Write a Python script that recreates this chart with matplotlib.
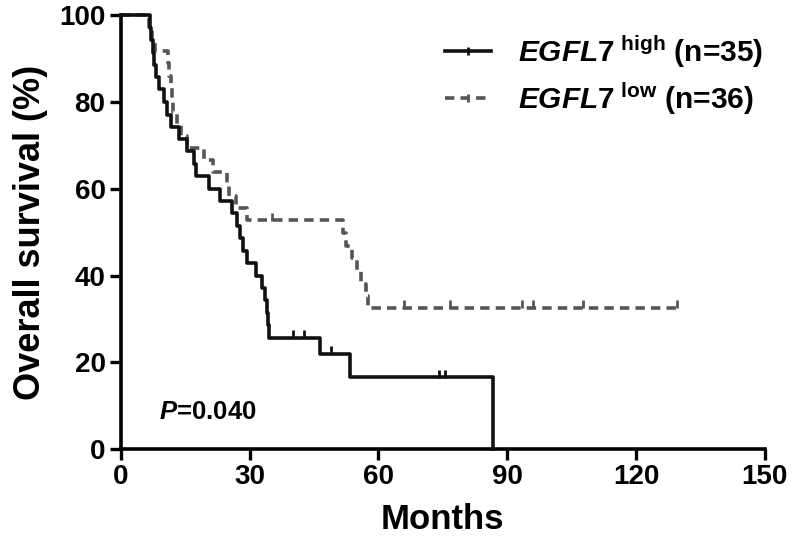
import numpy as np
import matplotlib
matplotlib.use("Agg")
import matplotlib.pyplot as plt
from matplotlib.lines import Line2D

# * Kaplan-Meier data (months, survival %)

# EGFL7 high (n=35): event times and survival after each event
hi_t = [6.8, 7.1, 7.4, 7.7, 8.2, 9.0, 10.0, 10.8, 11.6, 13.5, 15.5, 17.0, 17.5,
        20.5, 23.0, 26.0, 27.0, 27.8, 28.4, 29.4, 31.5, 33.0, 33.5, 34.0, 34.3,
        34.6, 46.4, 53.4, 86.7]
hi_s = [97.1, 94.3, 91.4, 88.6, 85.7, 82.9, 80.0, 77.1, 74.3, 71.4, 68.6, 65.7,
        62.9, 60.0, 57.1, 54.3, 51.4, 48.6, 45.7, 42.9, 40.0, 37.1, 34.3, 31.4,
        28.6, 25.7, 22.0, 16.5, 0.0]
hi_cens = [40.0, 42.7, 49.0, 74.0, 75.5]

# EGFL7 low (n=36)
lo_t = [6.5, 7.2, 8.0, 11.0, 11.3, 11.6, 11.9, 12.2, 13.0, 14.0, 15.5, 19.3,
        21.5, 24.8, 25.2, 26.8, 29.5, 51.7, 52.5, 53.8, 55.0, 56.0, 57.0, 57.6]
lo_s = [97.2, 94.4, 91.7, 88.9, 86.1, 83.3, 80.6, 77.8, 75.0, 72.2, 69.4, 66.7,
        63.9, 61.1, 58.3, 55.6, 52.8, 49.9, 46.9, 44.0, 41.1, 38.1, 35.2, 32.6]
lo_cens = [35.3, 66.0, 76.7, 93.5, 96.0, 107.7, 129.5]

x_ticks = [0, 30, 60, 90, 120, 150]
y_ticks = [0, 20, 40, 60, 80, 100]


def surv_at(times, levels, t):
    # survival of the step curve at time t
    s = 100.0
    for ti, si in zip(times, levels):
        if ti <= t:
            s = si
    return s


plt.rcParams['font.family'] = ['Liberation Sans', 'DejaVu Sans']
plt.rcParams['font.weight'] = 'bold'
plt.rcParams['mathtext.fontset'] = 'custom'
plt.rcParams['mathtext.it'] = 'Liberation Sans:italic:bold'
plt.rcParams['mathtext.rm'] = 'Liberation Sans:bold'
plt.rcParams['mathtext.bf'] = 'Liberation Sans:bold'

fig = plt.figure(figsize=(8, 5.43), dpi=100)
ax = fig.add_axes([0.151, 0.173, 0.805, 0.799])

hi_col = '#111111'
lo_col = '#555555'
dash = (0, (2.6, 1.7))

# high group, solid
ax.step([0] + hi_t, [100] + hi_s, where='post', color=hi_col, lw=2.6,
        clip_on=False, zorder=3)
ax.plot(hi_cens, [surv_at(hi_t, hi_s, t) + 0.8 for t in hi_cens], ls='none',
        marker='|', ms=6, mew=2, color=hi_col, clip_on=False, zorder=3)

# low group, dashed
ax.step([0] + lo_t + [lo_cens[-1]], [100] + lo_s + [lo_s[-1]], where='post',
        color=lo_col, lw=2.6, ls=dash, clip_on=False, zorder=2)
ax.plot(lo_cens, [surv_at(lo_t, lo_s, t) + 0.8 for t in lo_cens], ls='none',
        marker='|', ms=6, mew=2, color=lo_col, clip_on=False, zorder=2)

ax.set_xlim(0, 150)
ax.set_ylim(0, 100)
ax.set_xticks(x_ticks)
ax.set_yticks(y_ticks)
ax.tick_params(direction='out', length=8, width=2.4, labelsize=20, pad=3)
for side in ['top', 'right']:
    ax.spines[side].set_visible(False)
for side in ['left', 'bottom']:
    ax.spines[side].set_linewidth(2.6)

ax.set_xlabel('Months', fontsize=25, fontweight='bold', labelpad=9)
ax.set_ylabel('Overall survival (%)', fontsize=26, fontweight='bold', labelpad=8)

ax.text(9, 8.5, r'$P$=0.040', fontsize=18.5, va='center', ha='left')

handles = [
    Line2D([], [], color=hi_col, lw=2.6, marker='|', ms=6, mew=2),
    Line2D([], [], color=lo_col, lw=2.6, ls=dash, marker='|', ms=6, mew=2),
]
labels = [r'$EGFL7^{\ \mathrm{high}}$ (n=35)', r'$EGFL7^{\ \mathrm{low}}$ (n=36)']
ax.legend(handles, labels, loc='upper right', bbox_to_anchor=(1.025, 1.0),
          frameon=False, fontsize=21.5, handlelength=1.55, handletextpad=0.9,
          labelspacing=0.35, numpoints=1, borderaxespad=0.2)

fig.savefig('out.png', dpi=100)
